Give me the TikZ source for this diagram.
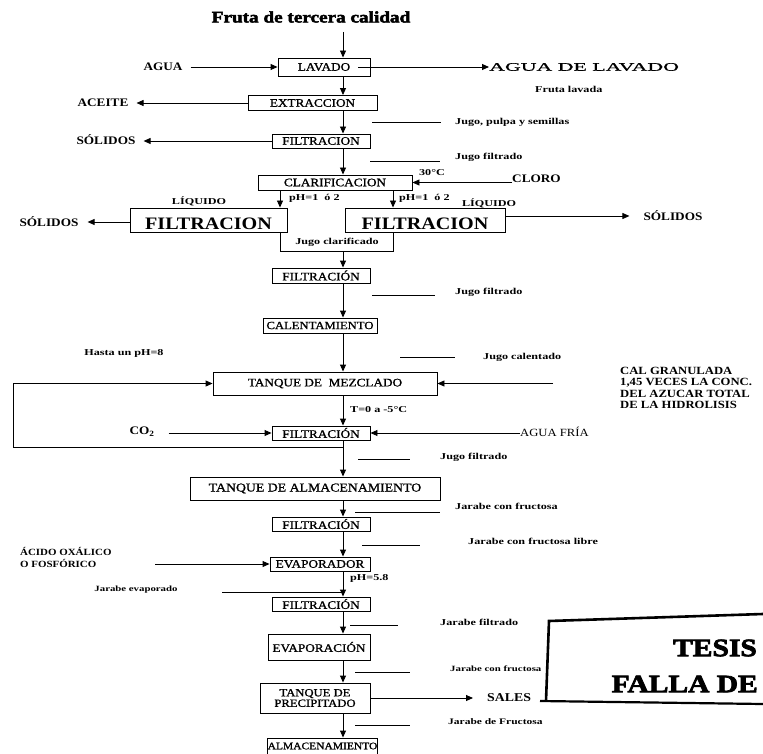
\documentclass[tikz,border=0pt]{standalone}
\usepackage{fontspec}
\setmainfont{Liberation Serif}
\newfontfamily\fBox{Liberation Serif}[FakeStretch=1.15,FakeBold=1.2]
\newfontfamily\fLbl{Liberation Serif}[FakeStretch=1.15]
\newfontfamily\fSm{Liberation Serif}[FakeStretch=1.35]
\newfontfamily\fWide{Liberation Serif}[FakeStretch=1.9,FakeBold=1]
\newfontfamily\fTtl{Liberation Serif}[FakeStretch=1.2,FakeBold=3]
\newfontfamily\fStamp{Liberation Serif}[FakeStretch=1.18,FakeBold=3]
\usetikzlibrary{arrows.meta}
\begin{document}
\begin{tikzpicture}[x=1pt,y=-1pt,
  box/.style={draw,line width=0.9pt,inner sep=0pt,font=\fBox\fontsize{11.5}{12}\selectfont},
  lbl/.style={inner sep=0pt,font=\fLbl\bfseries\fontsize{11.5}{12}\selectfont},
  sm/.style={inner sep=0pt,font=\fSm\bfseries\fontsize{9}{10}\selectfont},
  wd/.style={inner sep=0pt,font=\fWide\fontsize{11.5}{12}\selectfont},
  bigt/.style={inner sep=0pt,font=\fLbl\bfseries\fontsize{17.5}{18}\selectfont},
  arr/.style={line width=0.9pt,-{Triangle[length=7pt,width=6pt]}},
  ln/.style={line width=0.9pt}]
\useasboundingbox (0,0) rectangle (763,754);
\fill[white] (0,0) rectangle (763,754);
\coordinate (c) at (343,0);

% title
\node[inner sep=0pt,font=\fTtl\bfseries\fontsize{16}{16}\selectfont] (title) at (311,17) {Fruta de tercera calidad};
\coordinate (top) at (343,32);

% LAVADO
\node[box,minimum width=92,minimum height=18] (lav) at (324,67) {LAVADO\hspace{14pt}};
\draw[arr] (top) -- (top |- lav.north);
\node[lbl] (agua) at (163,67) {AGUA};
\draw[arr] ([xshift=8]agua.east) -- (lav.west);
\node[wd,anchor=west] (adl) at (489,67) {AGUA DE LAVADO};
\coordinate (lavd) at ([xshift=-12]lav.east);
\draw[arr] (lavd) -- (adl.west);
\node[sm,anchor=west] (frl) at (535,89) {Fruta lavada};

% EXTRACCION
\node[box,minimum width=129,minimum height=15] (ext) at (312.5,103) {EXTRACCION};
\draw[arr] (lav.south -| c) -- (ext.north -| c);
\node[lbl] (aceite) at (103,103) {ACEITE};
\draw[arr] (ext.west) -- ([xshift=8]aceite.east);
\node[sm,anchor=west] (jps) at (455,122) {Jugo, pulpa y semillas};
\coordinate (jpsl) at (372,122);
\draw[ln] (jpsl) -- ([xshift=-14]jps.west);

% FILTRACION 1
\node[box,minimum width=98,minimum height=14] (fil1) at (321,141) {FILTRACION};
\draw[arr] (ext.south -| c) -- (fil1.north -| c);
\node[lbl] (sol1) at (106,140) {SÓLIDOS};
\draw[arr] (fil1.west) -- ([xshift=8]sol1.east |- fil1.west);
\node[sm,anchor=west] (jf1) at (455,157) {Jugo filtrado};
\coordinate (jf1l) at (370,161);
\draw[ln] (jf1l) -- (440,161);

% CLARIFICACION
\node[box,minimum width=154,minimum height=15] (clar) at (335,182.5) {CLARIFICACION};
\draw[arr] (fil1.south -| c) -- (clar.north -| c);
\node[sm] (t30) at (432,173) {30°C};
\node[lbl,anchor=west] (cloro) at (512,179) {CLORO};
\draw[arr] (cloro.west |- clar.east) -- (clar.east);

% split
\coordinate (bl) at (280,0);
\coordinate (br) at (393,0);
\node[draw,line width=0.9pt,inner sep=0pt,minimum width=157,minimum height=24] (fl) at (208.5,220) {};
\node[draw,line width=0.9pt,inner sep=0pt,minimum width=160,minimum height=24] (fr) at (425,220) {};
\node[bigt,anchor=base] (flt) at ([yshift=2.5]fl.south) {FILTRACION};
\node[bigt,anchor=base] (frt) at ([yshift=2.5]fr.south) {FILTRACION};
\draw[arr] (clar.south -| bl) -- (fl.north -| bl);
\draw[arr] (clar.south -| br) -- (fr.north -| br);
\node[sm,anchor=west] (ph1) at (289,198) {pH=1\ \ ó 2};
\node[sm,anchor=west] (ph2) at (399,198) {pH=1\ \ ó 2};
\node[sm] (liq1) at (199,201) {LÍQUIDO};
\node[sm] (liq2) at (489,203) {LÍQUIDO};
\node[lbl] (sol2) at (49,222) {SÓLIDOS};
\draw[arr] (fl.west |- sol2) -- ([xshift=9]sol2.east);
\node[lbl] (sol3) at (673,216) {SÓLIDOS};
\draw[arr] (fr.east |- sol3) -- ([xshift=-14]sol3.west);
\coordinate (brk) at (343,251);
\draw[ln] (fl.south -| bl) -- (bl |- brk) -- (br |- brk) -- (fr.south -| br);
\node[sm] (jcl) at (337,242) {Jugo clarificado};

% FILTRACION 2
\node[box,minimum width=98,minimum height=15] (fil2) at (321,275.5) {FILTRACIÓN};
\draw[arr] (brk) -- (fil2.north -| c);
\node[sm,anchor=west] (jf2) at (455,292) {Jugo filtrado};
\draw[ln] (372,295) -- (435,295);

% CALENTAMIENTO
\node[box,minimum width=114,minimum height=15,font=\fBox\fontsize{11}{12}\selectfont] (cal) at (320,325.5) {CALENTAMIENTO};
\draw[arr] (fil2.south -| c) -- (cal.north -| c);
\node[sm,anchor=west] (jca) at (483,357) {Jugo calentado};
\draw[ln] (400,357) -- (455,357);

% TANQUE DE MEZCLADO
\node[box,minimum width=224,minimum height=23] (tdm) at (325,383.5) {TANQUE DE\ \ MEZCLADO};
\draw[arr] (cal.south -| c) -- (tdm.north -| c);
\node[sm] (hasta) at (124,353) {Hasta un pH=8};
\node[lbl,anchor=north west,align=left,font=\fLbl\bfseries\fontsize{11}{11.5}\selectfont] (calg) at (620,367)
  {CAL GRANULADA\\1,45 VECES LA CONC.\\DEL AZUCAR TOTAL\\DE LA HIDROLISIS};
\coordinate (calgl) at (553,383.5);
\draw[arr] (calgl) -- (tdm.east);
\node[sm,anchor=west] (temp) at (350,410) {T=0 a -5°C};

% FILTRACION 3
\node[box,minimum width=98,minimum height=14] (fil3) at (321,433) {FILTRACIÓN};
\draw[arr] (tdm.south -| c) -- (fil3.north -| c);
\node[lbl] (co2) at (142,432) {CO\textsubscript{2}};
\draw[arr] ([xshift=14]co2.east |- fil3.west) -- (fil3.west);
\node[inner sep=0pt,font=\fLbl\fontsize{11}{12}\selectfont,anchor=west] (af) at (520,432) {AGUA FRÍA};
\draw[arr] (af.west |- fil3.east) -- (fil3.east);
\coordinate (lp) at (343,447);
\draw[arr] (lp) -- (13,447) -- (13,383.5) -- (tdm.west);
\node[sm,anchor=west] (jf3) at (440,457) {Jugo filtrado};
\draw[ln] (358,459) -- (410,459);

% TANQUE DE ALMACENAMIENTO
\node[box,minimum width=250,minimum height=23,font=\fBox\fontsize{12}{12}\selectfont] (tda) at (315,488.5) {TANQUE DE ALMACENAMIENTO};
\draw[arr] (fil3.south -| c) -- (tda.north -| c);
\node[sm,anchor=west] (jcf) at (455,506) {Jarabe con fructosa};
\draw[ln] (355,512) -- (440,512);

% FILTRACION 4
\node[box,minimum width=98,minimum height=14] (fil4) at (321,524) {FILTRACIÓN};
\draw[arr] (tda.south -| c) -- (fil4.north -| c);
\node[sm,anchor=west] (jcfl) at (468,541) {Jarabe con fructosa libre};
\draw[ln] (362,545) -- (420,545);

% EVAPORADOR
\node[box,minimum width=100,minimum height=14] (evp) at (320,564) {EVAPORADOR};
\draw[arr] (fil4.south -| c) -- (evp.north -| c);
\node[lbl,anchor=west,align=left,font=\fLbl\bfseries\fontsize{9.5}{12}\selectfont] (acido) at (20,557) {ÁCIDO OXÁLICO\\O FOSFÓRICO};
\coordinate (acl) at (155,564);
\draw[arr] (acl) -- (evp.west);
\node[sm,anchor=west] (ph58) at (350,578) {pH=5.8};
\node[sm,font=\fSm\bfseries\fontsize{8}{9}\selectfont] (jev) at (136,590) {Jarabe evaporado};
\coordinate (jevl) at (222,592);
\draw[ln] (jevl) -- (343,592);

% FILTRACION 5
\node[box,minimum width=98,minimum height=14] (fil5) at (321,604) {FILTRACIÓN};
\draw[arr] (evp.south -| c) -- (fil5.north -| c);
\node[sm,anchor=west] (jfi) at (440,622) {Jarabe filtrado};
\draw[ln] (350,625) -- (398,625);

% EVAPORACION
\node[box,minimum width=102,minimum height=26] (evn) at (319,647) {EVAPORACIÓN};
\draw[arr] (fil5.south -| c) -- (evn.north -| c);
\node[sm,anchor=west,font=\fSm\bfseries\fontsize{8}{9}\selectfont] (jcf2) at (450,669) {Jarabe con fructosa};
\draw[ln] (355,672) -- (410,672);

% TANQUE DE PRECIPITADO
\node[box,minimum width=110,minimum height=30,align=center,font=\fBox\fontsize{11}{10.5}\selectfont] (tpr) at (315,698) {TANQUE DE\\PRECIPITADO};
\draw[arr] (evn.south -| c) -- (tpr.north -| c);
\node[lbl,anchor=west,font=\fLbl\bfseries\fontsize{12}{12}\selectfont] (sales) at (487,698) {SALES};
\draw[arr] (tpr.east) -- ([xshift=-14]sales.west);
\node[sm,anchor=west,font=\fSm\bfseries\fontsize{8.5}{9}\selectfont] (jdf) at (448,722) {Jarabe de Fructosa};
\draw[ln] (355,725) -- (410,725);

% ALMACENAMIENTO
\node[box,minimum width=109,minimum height=16,font=\fBox\fontsize{10}{11}\selectfont] (alm) at (322.5,746) {ALMACENAMIENTO};
\draw[arr] (tpr.south -| c) -- (alm.north -| c);

% stamp
\draw[line width=2.6pt] (763,614) -- (549,621) -- (546,701);
\draw[line width=2.2pt] (540,701) -- (763,704);
\node[inner sep=0pt,anchor=east,font=\fStamp\bfseries\fontsize{25}{25}\selectfont] (tesis) at (757,648) {TESIS};
\node[inner sep=0pt,anchor=east,font=\fStamp\bfseries\fontsize{25}{25}\selectfont] (falla) at (758,684) {FALLA DE};
\end{tikzpicture}
\end{document}
